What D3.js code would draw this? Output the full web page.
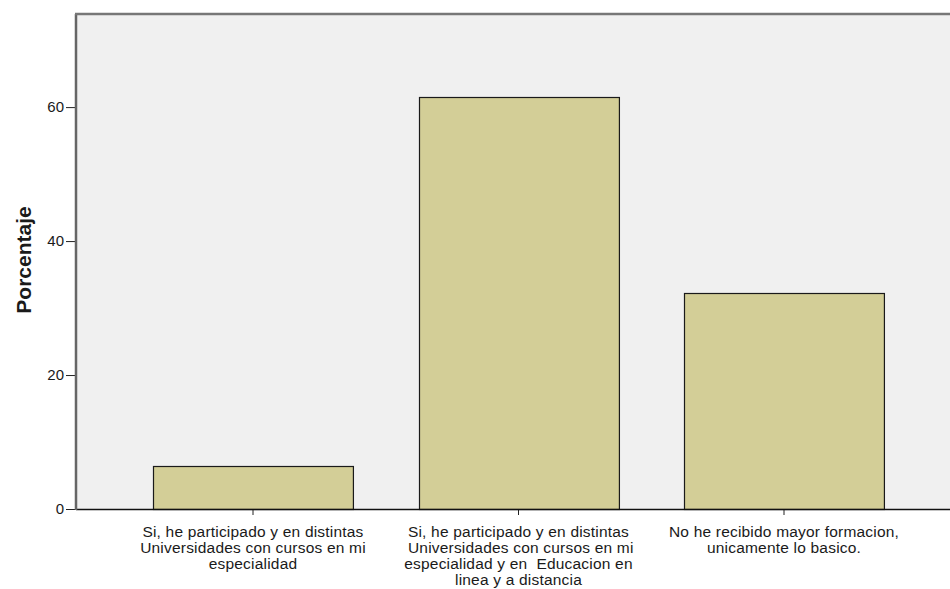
<!DOCTYPE html>
<html>
<head>
<meta charset="utf-8">
<script src="https://cdn.jsdelivr.net/npm/d3@7"></script>
<style>
	body{margin:0;background:#fff;}
	svg text{font-family:"Liberation Sans",Arial,sans-serif;fill:#1a1a1a;}
</style>
</head>
<body>
<div id="chart"></div>
<script>

// categorias (lineas de cada etiqueta) y porcentajes
let categories = ['cat1','cat2','cat3']
let catLabels = [
	['Si, he participado y en distintas','Universidades con cursos en mi','especialidad'],
	['Si, he participado y en distintas',' Universidades con cursos en mi','especialidad y en  Educacion en','linea y a distancia'],
	['No he recibido mayor formacion,','unicamente lo basico.']
]
let percents = [6.4, 61.5, 32.2]
let yTicks = [0,20,40,60]

function drawChart(){
	let width = 950, height = 589
	let left = 76, top = 14, bottom = 509, right = 950

	let svg = d3.select('#chart').append('svg').attr('width',width).attr('height',height)

	let y = d3.scaleLinear().domain([0,73.9]).range([bottom,top])
	let x = d3.scaleBand().domain(categories).range([120.25,916.75])
		.paddingInner(0.247).paddingOuter(0.1235)

	svg.append('rect')
		.attr('x',left).attr('y',top)
		.attr('width',right-left).attr('height',bottom-top)
		.attr('fill','#f0f0f0')

	svg.selectAll('.bar').data(percents).enter().append('rect')
		.attr('class','bar')
		.attr('x',function(d,i){return Math.round(x(categories[i]))+0.5})
		.attr('y',function(d){return Math.round(y(d))+0.5})
		.attr('width',x.bandwidth())
		.attr('height',function(d){return bottom-Math.round(y(d))})
		.attr('fill','#d3ce97')
		.attr('stroke','#1a1a1a')
		.attr('stroke-width',1.2)

	// y axis
	let yAxis = d3.axisLeft(y).tickValues(yTicks).tickSize(10).tickPadding(2)
	let gy = svg.append('g').attr('transform','translate('+left+',0)').call(yAxis)
	gy.select('.domain').remove()
	gy.selectAll('line').attr('stroke','#222')
	gy.selectAll('text').attr('font-size','15px').attr('fill','#1a1a1a')
		.attr('font-family','"Liberation Sans",Arial,sans-serif')

	// x axis
	let xAxis = d3.axisBottom(x).tickSize(6).tickFormat('')
	let gx = svg.append('g').attr('transform','translate(0,'+bottom+')').call(xAxis)
	gx.select('.domain').remove()
	gx.selectAll('line').attr('stroke','#222')

	svg.append('line').attr('x1',left).attr('x2',right).attr('y1',bottom+0.5).attr('y2',bottom+0.5)
		.attr('stroke','#111').attr('stroke-width',1.3)

	// marco
	svg.append('line').attr('x1',left).attr('x2',left).attr('y1',top).attr('y2',bottom+1)
		.attr('stroke','#666').attr('stroke-width',2.5)
	svg.append('line').attr('x1',left-1).attr('x2',right).attr('y1',top).attr('y2',top)
		.attr('stroke','#777').attr('stroke-width',2.5)

	catLabels.forEach(function(lines,i){
		let cx = x(categories[i])+x.bandwidth()/2
		let t = svg.append('text').attr('text-anchor','middle').attr('font-size','15.5px')
			.attr('letter-spacing','0.2px')
		lines.forEach(function(l,j){
			t.append('tspan').attr('x',cx).attr('y',537+j*16.1).attr('xml:space','preserve').text(l)
		})
	})

	svg.append('text')
		.attr('transform','translate(31,260) rotate(-90)')
		.attr('text-anchor','middle')
		.attr('font-size','21px').attr('font-weight','bold')
		.text('Porcentaje')
}

drawChart()
</script>
</body>
</html>
